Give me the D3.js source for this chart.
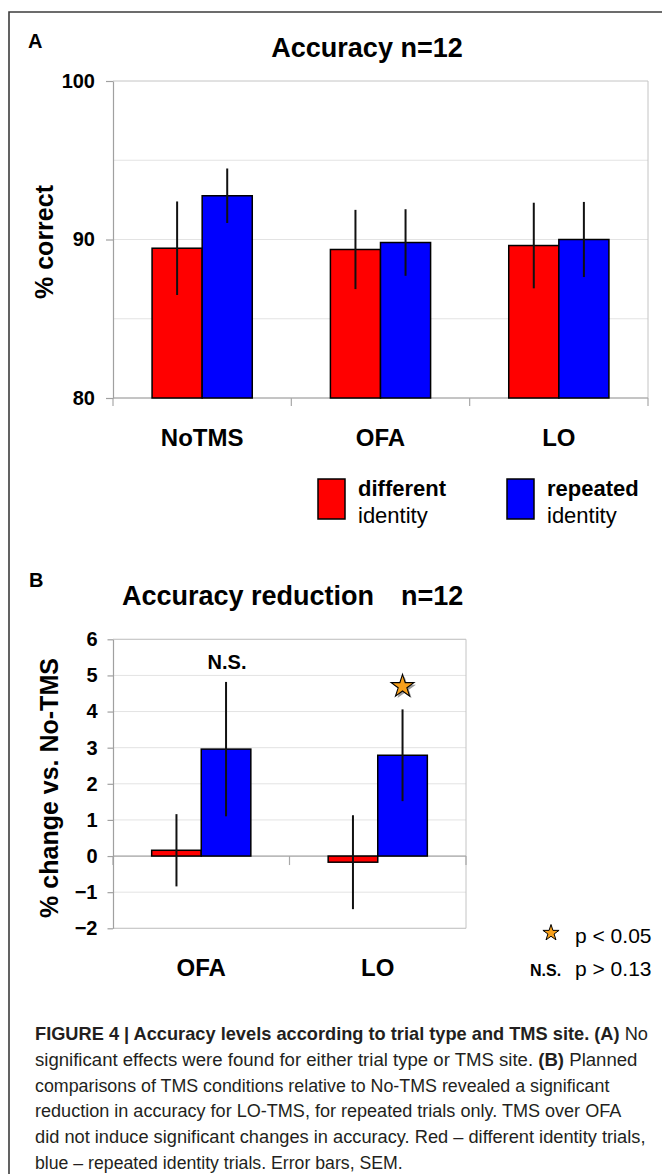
<!DOCTYPE html>
<html><head><meta charset="utf-8">
<script src="https://cdn.jsdelivr.net/npm/d3@7"></script>
<style>
body{margin:0;background:#fff}
svg{display:block}
text{font-family:"Liberation Sans",Arial,Helvetica,sans-serif;fill:#000}
.cap{font-family:"Liberation Sans Narrow","Arial Narrow","Liberation Sans",sans-serif;fill:#231f20;white-space:pre}
</style>
</head><body><div id="chart"></div>
<script>
// ---------- data ----------
const categoriesA = ["NoTMS", "OFA", "LO"];
const seriesKeys = ["different", "repeated"];
const seriesColors = ["#ff0000", "#0000ff"];
const accuracyDifferent = [89.45, 89.37, 89.62];
const accuracyRepeated = [92.76, 89.81, 90.00];
const semAccDifferent = [2.95, 2.50, 2.70];
const semAccRepeated = [1.72, 2.10, 2.37];
const yTicksA = [80, 90, 100];
const gridA = [85, 90, 95];

const categoriesB = ["OFA", "LO"];
const reductionDifferent = [0.16, -0.17];
const reductionRepeated = [2.96, 2.79];
const semRedDifferent = [1.00, 1.30];
const semRedRepeated = [1.86, 1.27];
const yTicksB = [-2, -1, 0, 1, 2, 3, 4, 5, 6];
const significanceB = ["N.S.", "star"];

const legendLabels = [["different", "identity"], ["repeated", "identity"]];
const sigLegend = [["star", "p < 0.05"], ["N.S.", "p > 0.13"]];

const captionLines = [
  [["FIGURE 4 | Accuracy levels according to trial type and TMS site. (A)", true], [" No", false]],
  [["significant effects were found for either trial type or TMS site. ", false], ["(B)", true], [" Planned", false]],
  [["comparisons of TMS conditions relative to No-TMS revealed a significant", false]],
  [["reduction in accuracy for LO-TMS, for repeated trials only. TMS over OFA", false]],
  [["did not induce significant changes in accuracy. Red \u2013 different identity trials,", false]],
  [["blue \u2013 repeated identity trials. Error bars, SEM.", false]]
];
const captionWidths = [613, 603, 575, 587, 611, 368];

// ---------- setup ----------
const W = 662, H = 1174;
const svg = d3.select("#chart").append("svg").attr("width", W).attr("height", H);

// outer frame (left + top visible)
svg.append("path").attr("d", `M9,${H} V12 H${W}`).attr("fill", "none")
  .attr("stroke", "#3c3c3c").attr("stroke-width", 1.6);

const starPath = r => d3.symbol(d3.symbolStar, r * r / 0.8908130915292852)();

function drawPanel(opts) {
  const g = svg.append("g");
  const { cats, vals, sems, x0range, yDomain, yRange, gridVals, tickVals, tickSize, tickPad } = opts;
  const x0 = d3.scaleBand().domain(cats).range(x0range).paddingInner(0).paddingOuter(0);
  const x1 = d3.scaleBand().domain(seriesKeys).range([0, x0.bandwidth()]).paddingInner(0).paddingOuter(0.78);
  const y = d3.scaleLinear().domain(yDomain).range(yRange);
  const [L, R] = x0range;
  const base = yDomain[0] < 0 ? 0 : yDomain[0];

  g.selectAll(".grid").data(gridVals).join("line")
    .attr("x1", L).attr("x2", R).attr("y1", d => y(d)).attr("y2", d => y(d))
    .attr("stroke", "#e3e3e3").attr("stroke-width", 1);
  g.append("path").attr("d", `M${L},${y(yDomain[1])} H${R} V${y(yDomain[0])} H${L}`)
    .attr("fill", "none").attr("stroke", "#c4c4c4").attr("stroke-width", 1);

  g.append("line").attr("x1", L).attr("x2", R).attr("y1", y(base)).attr("y2", y(base))
    .attr("stroke", "#a8a8a8").attr("stroke-width", 1.2);
  const bounds = cats.map(c => x0(c)).concat([R]);
  g.selectAll(".ctick").data(bounds).join("line")
    .attr("x1", d => d).attr("x2", d => d).attr("y1", y(base)).attr("y2", y(base) + opts.catTick)
    .attr("stroke", "#a8a8a8").attr("stroke-width", 1.2);

  const ax = g.append("g").attr("transform", `translate(${L},0)`)
    .call(d3.axisLeft(y).tickValues(tickVals).tickSize(tickSize).tickPadding(tickPad).tickSizeOuter(0).tickFormat(d3.format("d")));
  ax.select(".domain").attr("stroke", "#a0a0a0").attr("stroke-width", 1.2);
  ax.selectAll(".tick line").attr("stroke", "#a0a0a0").attr("stroke-width", 1.2);
  ax.selectAll(".tick text").attr("font-size", 20).attr("font-weight", "bold")
    .attr("font-family", "Liberation Sans, Arial, sans-serif").attr("fill", "#000");

  const rows = [];
  cats.forEach((c, i) => seriesKeys.forEach((s, j) => rows.push({ c, s, j, v: vals[j][i], e: sems[j][i] })));
  g.selectAll(".bar").data(rows).join("rect")
    .attr("x", d => x0(d.c) + x1(d.s)).attr("width", x1.bandwidth())
    .attr("y", d => Math.min(y(d.v), y(base))).attr("height", d => Math.abs(y(d.v) - y(base)))
    .attr("fill", d => seriesColors[d.j]).attr("stroke", "#000").attr("stroke-width", 1.5);
  g.selectAll(".err").data(rows).join("line")
    .attr("x1", d => x0(d.c) + x1(d.s) + x1.bandwidth() / 2).attr("x2", d => x0(d.c) + x1(d.s) + x1.bandwidth() / 2)
    .attr("y1", d => y(d.v + d.e)).attr("y2", d => y(d.v - d.e))
    .attr("stroke", "#111").attr("stroke-width", 2);

  g.selectAll(".clab").data(cats).join("text")
    .attr("x", d => x0(d) + x0.bandwidth() / 2).attr("y", opts.labelY)
    .attr("text-anchor", "middle").attr("font-size", 24).attr("font-weight", "bold").text(d => d);

  return { x0, x1, y, rows };
}

// ---------- Panel A ----------
svg.append("text").attr("x", 28).attr("y", 48).attr("font-size", 20).attr("font-weight", "bold").text("A");
svg.append("text").attr("x", 367).attr("y", 57).attr("text-anchor", "middle")
  .attr("font-size", 27).attr("font-weight", "bold").text("Accuracy n=12");
svg.append("text").attr("transform", "translate(53,242) rotate(-90)").attr("text-anchor", "middle")
  .attr("font-size", 25).attr("font-weight", "bold").text("% correct");

drawPanel({
  cats: categoriesA, vals: [accuracyDifferent, accuracyRepeated], sems: [semAccDifferent, semAccRepeated],
  x0range: [113, 648], yDomain: [80, 100], yRange: [398, 81], gridVals: gridA, tickVals: yTicksA,
  tickSize: 7, tickPad: 11, catTick: 8, labelY: 446
});

const lg = svg.append("g");
legendLabels.forEach((lab, i) => {
  const lx = [318, 507][i];
  lg.append("rect").attr("x", lx).attr("y", 479).attr("width", 27).attr("height", 40)
    .attr("fill", seriesColors[i]).attr("stroke", "#000").attr("stroke-width", 1.5);
  lg.append("text").attr("x", lx + 40).attr("y", 496).attr("font-size", 22).attr("font-weight", "bold").text(lab[0]);
  lg.append("text").attr("x", lx + 40).attr("y", 523).attr("font-size", 22).text(lab[1]);
});

// ---------- Panel B ----------
svg.append("text").attr("x", 29).attr("y", 587).attr("font-size", 20).attr("font-weight", "bold").text("B");
const tB = svg.append("text").attr("y", 605).attr("font-size", 27).attr("font-weight", "bold");
tB.append("tspan").attr("x", 122).text("Accuracy reduction");
tB.append("tspan").attr("x", 401).text("n=12");
svg.append("text").attr("transform", "translate(58,788) rotate(-90)").attr("text-anchor", "middle")
  .attr("font-size", 25).attr("font-weight", "bold").text("% change vs. No-TMS");

const pB = drawPanel({
  cats: categoriesB, vals: [reductionDifferent, reductionRepeated], sems: [semRedDifferent, semRedRepeated],
  x0range: [113, 466], yDomain: [-2, 6], yRange: [928.3, 639.3], gridVals: yTicksB, tickVals: yTicksB,
  tickSize: 5.5, tickPad: 10, catTick: 9, labelY: 976
});

significanceB.forEach((m, i) => {
  const c = categoriesB[i];
  const cx = pB.x0(c) + pB.x1("repeated") + pB.x1.bandwidth() / 2;
  const topY = pB.y(reductionRepeated[i] + semRedRepeated[i]);
  if (m === "star") {
    const cy = topY - 23;
    svg.append("path").attr("d", starPath(12)).attr("transform", `translate(${cx + 2},${cy + 2})`).attr("fill", "#9a9a9a");
    svg.append("path").attr("d", starPath(12)).attr("transform", `translate(${cx},${cy})`)
      .attr("fill", "#f7a01c").attr("stroke", "#000").attr("stroke-width", 1.1);
  } else {
    svg.append("text").attr("x", cx + 1).attr("y", topY - 13).attr("text-anchor", "middle")
      .attr("font-size", 20).attr("font-weight", "bold").text(m);
  }
});

sigLegend.forEach((d, i) => {
  const by = [943, 976][i];
  if (d[0] === "star") {
    svg.append("path").attr("d", starPath(8.5)).attr("transform", `translate(551,${by - 10})`)
      .attr("fill", "#f7a01c").attr("stroke", "#000").attr("stroke-width", 1);
  } else {
    svg.append("text").attr("x", 530).attr("y", by).attr("font-size", 16).attr("font-weight", "bold").text(d[0]);
  }
  svg.append("text").attr("x", 575).attr("y", by).attr("font-size", 21).text(d[1]);
});

// ---------- caption (each line scaled horizontally to its measured width) ----------
captionLines.forEach((segs, i) => {
  const y = 1040 + i * 25.8;
  const t = svg.append("text").attr("class", "cap").attr("x", 0).attr("y", 0).attr("font-size", 18.5);
  segs.forEach(s => t.append("tspan").attr("font-weight", s[1] ? "bold" : "normal").text(s[0]));
  const natural = t.node().getComputedTextLength();
  const k = captionWidths[i] / natural;
  t.attr("transform", `translate(35,${y}) scale(${k},1)`);
});
</script>
</body></html>
